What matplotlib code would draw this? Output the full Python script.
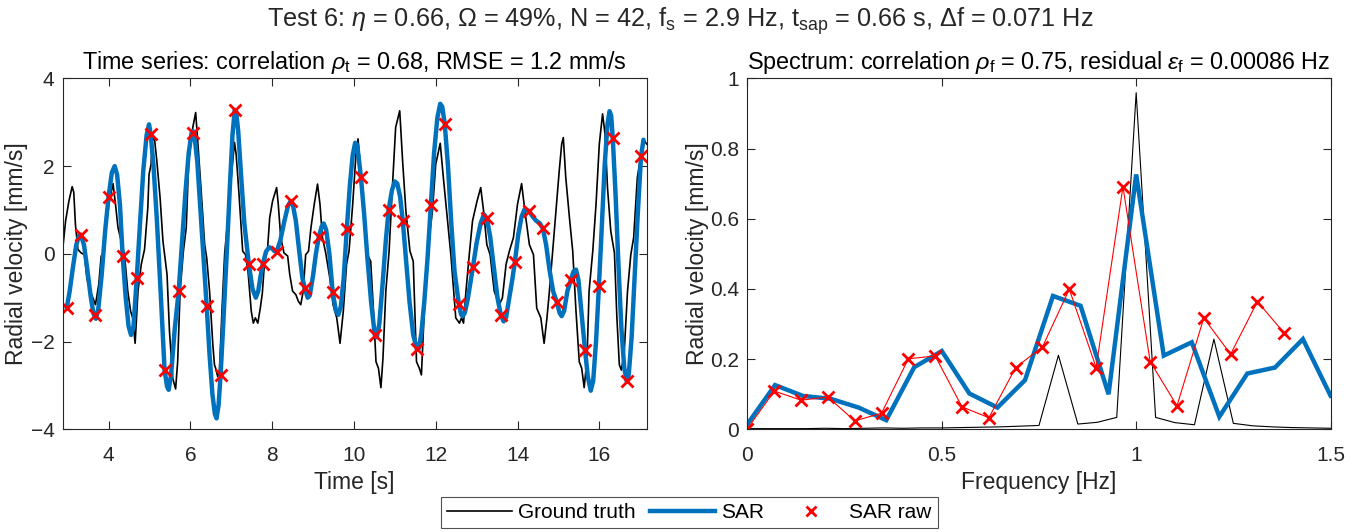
import matplotlib
matplotlib.use("Agg")
import matplotlib.pyplot as plt
from matplotlib.lines import Line2D

plt.rcParams['font.family'] = ['Liberation Sans', 'DejaVu Sans']
plt.rcParams['mathtext.fontset'] = 'custom'
plt.rcParams['mathtext.rm'] = 'Liberation Sans'
plt.rcParams['mathtext.it'] = 'Liberation Sans:italic'
plt.rcParams['mathtext.bf'] = 'Liberation Sans:bold'

# ---------------- time series ----------------
# ground truth velocity trace
gt_t = [2.883, 2.95, 3.03, 3.11, 3.15, 3.19, 3.25, 3.33, 3.41, 3.47, 3.54, 3.62, 3.68, 3.76,
        3.82, 3.88, 3.94, 4.02, 4.11, 4.17, 4.23, 4.31, 4.39, 4.47, 4.54, 4.59, 4.65, 4.72,
        4.80, 4.88, 4.96, 4.99, 5.04, 5.07, 5.12, 5.18, 5.26, 5.33, 5.37, 5.43, 5.49, 5.57,
        5.64, 5.69, 5.75, 5.83, 5.90, 5.96, 6.06, 6.13, 6.18, 6.27, 6.35, 6.40, 6.47, 6.55,
        6.59, 6.62, 6.67, 6.71, 6.78, 6.84, 6.92, 7.00, 7.08, 7.12, 7.19, 7.28, 7.35, 7.41,
        7.49, 7.54, 7.59, 7.65, 7.71, 7.76, 7.81, 7.89, 7.94, 8.01, 8.11, 8.15, 8.21, 8.29,
        8.38, 8.43, 8.50, 8.58, 8.64, 8.70, 8.76, 8.82, 8.89, 8.95, 9.03, 9.11, 9.17, 9.23,
        9.31, 9.41, 9.49, 9.58, 9.66, 9.74, 9.82, 9.88, 9.97, 10.05, 10.10, 10.17, 10.25,
        10.33, 10.41, 10.47, 10.54, 10.60, 10.66, 10.71, 10.78, 10.86, 10.94, 11.02, 11.12,
        11.19, 11.27, 11.37, 11.45, 11.53, 11.60, 11.65, 11.72, 11.80, 11.92, 12.00, 12.07,
        12.11, 12.18, 12.25, 12.37, 12.44, 12.49, 12.58, 12.63, 12.68, 12.74, 12.82, 12.90,
        13.01, 13.10, 13.17, 13.25, 13.33, 13.43, 13.55, 13.63, 13.72, 13.80, 13.90, 14.00,
        14.10, 14.18, 14.29, 14.39, 14.47, 14.57, 14.65, 14.72, 14.78, 14.86, 14.94, 15.02,
        15.08, 15.12, 15.18, 15.27, 15.35, 15.43, 15.51, 15.57, 15.63, 15.70, 15.75, 15.84,
        15.92, 16.00, 16.08, 16.14, 16.20, 16.28, 16.37, 16.43, 16.49, 16.54, 16.61, 16.69,
        16.77, 16.84, 16.93, 17.06, 17.10, 17.16]
gt_v = [0.14, 0.75, 1.20, 1.53, 1.40, 0.67, 0.10, 0.02, -0.02, -0.55, -0.82, -1.01, -1.16, -0.70,
        -0.05, 0.02, 0.67, 1.20, 1.60, 1.13, 0.60, 0.29, -0.02, -0.85, -1.31, -1.46, -2.04, -0.85,
        -0.24, 0.10, 1.05, 1.81, 2.04, 2.58, 2.65, 2.12, 1.28, 0.29, -0.02, -0.47, -1.77, -2.84,
        -3.08, -2.46, -0.85, 0.06, 0.60, 2.12, 2.88, 3.22, 2.58, 1.36, 0.21, -0.09, -0.85, -2.07,
        -2.53, -2.61, -2.80, -2.69, -1.16, 0.02, 0.82, 1.74, 2.54, 2.27, 1.36, 0.06, -0.02, -0.40,
        -1.31, -1.58, -1.46, -1.58, -1.24, -0.90, -0.24, 0.14, 0.82, 1.20, 1.51, 1.13, 0.37, 0.02,
        -0.05, -0.47, -0.85, -0.93, -1.08, -1.16, -0.85, -0.02, 0.06, 0.60, 1.13, 1.59, 1.13, 0.37,
        0.02, -0.55, -1.16, -1.46, -2.04, -1.31, -0.24, 0.06, 1.13, 2.27, 2.62, 1.81, 0.90,
        -0.02, -0.17, -1.16, -2.46, -2.61, -3.05, -2.38, -0.85, 0.06, 1.51, 2.88, 3.26,
        2.12, 0.98, 0.06, -0.17, -2.46, -2.61, -2.76, -1.31, 0.06, 0.98, 2.04, 2.35,
        2.52, 1.80, 1.13, -0.02, -0.85, -1.46, -1.58, -1.46, -1.58, -0.85, -0.02, 0.75,
        1.20, 1.51, 0.98, 0.21, -0.02, -0.85, -1.16, -1.01, -0.24, 0.06, 0.37, 1.13,
        1.60, 0.98, 0.21, -0.02, -1.24, -1.46, -2.04, -1.46, -0.85, 0.06, 0.98, 1.89,
        2.50, 2.65, 1.74, 0.82, 0.06, -1.31, -2.46, -2.61, -3.05, -2.38, -0.85, 0.06,
        1.13, 2.50, 3.19, 2.73, 1.51, 0.52, 0.02, -1.46, -2.53, -2.65, -2.23, -0.85,
        -0.02, 0.37, 1.74, 2.50, 2.58, 2.50]

# SAR reconstructed velocity
sar_t = [2.975, 3.05, 3.13, 3.21, 3.28, 3.32, 3.40, 3.48, 3.56, 3.63, 3.69, 3.75, 3.83, 3.92,
         4.00, 4.08, 4.15, 4.21, 4.28, 4.345, 4.42, 4.49, 4.55, 4.61, 4.69, 4.77, 4.85, 4.93,
         4.99, 5.03, 5.10, 5.18, 5.27, 5.37, 5.43, 5.47, 5.53, 5.62, 5.715, 5.80, 5.88, 5.96,
         6.03, 6.06, 6.10, 6.17, 6.26, 6.33, 6.40, 6.47, 6.54, 6.60, 6.64, 6.69, 6.74, 6.81,
         6.90, 6.97, 7.03, 7.085, 7.12, 7.17, 7.24, 7.32, 7.43, 7.52, 7.60, 7.66, 7.71, 7.77,
         7.85, 7.93, 8.00, 8.06, 8.11, 8.20, 8.30, 8.39, 8.455, 8.50, 8.58, 8.67, 8.74, 8.80,
         8.87, 8.92, 9.00, 9.07, 9.14, 9.21, 9.26, 9.32, 9.40, 9.48, 9.56, 9.62, 9.68, 9.75,
         9.825, 9.90, 9.97, 10.03, 10.08, 10.17, 10.25, 10.33, 10.42, 10.51, 10.56, 10.62,
         10.70, 10.78, 10.85, 10.93, 11.00, 11.06, 11.13, 11.195, 11.27, 11.36, 11.45, 11.54,
         11.59, 11.65, 11.72, 11.80, 11.88, 11.96, 12.04, 12.11, 12.16, 12.22, 12.30, 12.38,
         12.46, 12.565, 12.62, 12.66, 12.71, 12.78, 12.85, 12.91, 13.00, 13.10, 13.18, 13.25,
         13.33, 13.42, 13.51, 13.59, 13.66, 13.72, 13.80, 13.87, 13.935, 14.02, 14.10, 14.17,
         14.22, 14.28, 14.37, 14.46, 14.54, 14.62, 14.70, 14.78, 14.87, 14.96, 15.03, 15.08,
         15.14, 15.22, 15.305, 15.37, 15.43, 15.49, 15.57, 15.65, 15.72, 15.79, 15.85, 15.92,
         15.99, 16.06, 16.13, 16.20, 16.25, 16.29, 16.33, 16.40, 16.47, 16.54, 16.61, 16.67,
         16.72, 16.79, 16.86, 16.94, 17.02, 17.08]
sar_v = [-1.24, -0.85, -0.30, 0.20, 0.42, 0.44, 0.20, -0.35, -0.95, -1.36, -1.48, -1.25, -0.50, 0.55,
         1.30, 1.85, 2.00, 1.80, 1.10, -0.05, -1.00, -1.65, -1.85, -1.65, -0.55, 0.70, 1.90, 2.70,
         2.95, 2.73, 2.00, 0.80, -0.80, -2.65, -3.02, -3.10, -2.75, -1.70, -0.85, 0.30, 1.40, 2.30,
         2.75, 2.80, 2.70, 2.10, 0.80, -0.20, -1.20, -2.30, -3.20, -3.65, -3.75, -3.45, -2.76, -1.50,
         0.20, 1.60, 2.70, 3.28, 3.25, 2.80, 1.80, 0.70, -0.24, -0.80, -1.00, -0.85, -0.55, -0.24,
         0.05, 0.15, 0.12, 0.06, 0.05, 0.30, 0.75, 1.10, 1.20, 1.15, 0.75, 0.00, -0.55, -0.79,
         -1.00, -0.95, -0.50, 0.00, 0.38, 0.62, 0.69, 0.55, 0.00, -0.87, -1.30, -1.39, -1.20, -0.55,
         0.56, 1.55, 2.25, 2.53, 2.48, 1.76, 0.90, -0.10, -1.10, -1.85, -1.90, -1.60,
         -0.70, 0.30, 1.01, 1.45, 1.65, 1.60, 1.30, 0.75, -0.10, -1.10, -1.85, -2.17,
         -2.15, -1.80, -1.10, -0.10, 1.11, 2.30, 3.10, 3.42, 3.35, 2.97, 2.00, 0.70,
         -0.40, -1.14, -1.38, -1.42, -1.35, -1.05, -0.65, -0.30, 0.25, 0.70, 0.90, 0.81,
         0.40, -0.30, -1.00, -1.39, -1.54, -1.45, -1.00, -0.60, -0.19, 0.45, 0.85, 1.01,
         1.00, 0.98, 0.85, 0.75, 0.70, 0.58, 0.20, -0.35, -0.85, -1.10, -1.35, -1.42,
         -1.30, -0.85, -0.59, -0.40, -0.36, -0.60, -1.40, -2.19, -2.80, -3.12, -2.90, -2.00,
         -0.74, 0.60, 2.00, 2.95, 3.25, 3.15, 2.63, 1.30, -0.30, -1.70, -2.60, -2.90,
         -2.75, -1.90, -0.60, 0.90, 2.22, 2.60]

# raw SAR samples
raw_t = [2.975, 3.32, 3.66, 4.00, 4.345, 4.69, 5.03, 5.37, 5.715, 6.06, 6.40, 6.74, 7.085, 7.43,
         7.77, 8.11, 8.455, 8.80, 9.14, 9.48, 9.825, 10.17, 10.51, 10.85, 11.195, 11.54, 11.88,
         12.22, 12.565, 12.91, 13.25, 13.59, 13.935, 14.28, 14.62, 14.96, 15.305, 15.65, 15.99,
         16.33, 16.675, 17.02]
raw_v = [-1.24, 0.44, -1.40, 1.30, -0.05, -0.55, 2.73, -2.65, -0.85, 2.75, -1.20, -2.76, 3.28, -0.24,
         -0.24, 0.05, 1.21, -0.79, 0.38, -0.87, 0.56, 1.76, -1.85, 1.01, 0.75, -2.17, 1.11,
         2.97, -1.14, -0.30, 0.81, -1.39, -0.19, 0.98, 0.58, -1.10, -0.59, -2.19, -0.74,
         2.63, -2.90, 2.22]

# ---------------- spectra ----------------
gt_f = [0.00, 0.05, 0.10, 0.15, 0.20, 0.25, 0.30, 0.35, 0.40, 0.45, 0.50, 0.55, 0.60, 0.65, 0.70,
        0.75, 0.80, 0.85, 0.90, 0.95, 1.00, 1.05, 1.10, 1.15, 1.20, 1.25, 1.30, 1.35, 1.40, 1.45, 1.50]
gt_a = [0.002, 0.002, 0.002, 0.002, 0.003, 0.002, 0.003, 0.004, 0.003, 0.004, 0.004, 0.005, 0.006,
        0.007, 0.009, 0.011, 0.211, 0.015, 0.020, 0.034, 0.959, 0.034, 0.019, 0.013, 0.257, 0.017,
        0.010, 0.007, 0.005, 0.004, 0.003]

sar_f = [0.000, 0.071, 0.143, 0.214, 0.286, 0.357, 0.429, 0.500, 0.571, 0.643, 0.714, 0.786, 0.857,
         0.929, 1.000, 1.071, 1.143, 1.214, 1.286, 1.357, 1.429, 1.500]
sar_a = [0.015, 0.126, 0.095, 0.087, 0.062, 0.026, 0.177, 0.223, 0.102, 0.062, 0.140, 0.380, 0.352,
         0.100, 0.726, 0.210, 0.248, 0.036, 0.159, 0.176, 0.257, 0.096]

raw_f = [0.000, 0.069, 0.138, 0.207, 0.276, 0.345, 0.414, 0.483, 0.552, 0.621, 0.690, 0.759, 0.828,
         0.897, 0.966, 1.036, 1.105, 1.174, 1.243, 1.312, 1.381]
raw_a = [0.002, 0.109, 0.083, 0.092, 0.024, 0.046, 0.201, 0.209, 0.064, 0.033, 0.176, 0.235, 0.399,
         0.176, 0.691, 0.193, 0.067, 0.317, 0.214, 0.364, 0.274]

BLUE = '#0072BD'
AX_COL = '#262626'
TICK_FS = 15
LABEL_FS = 16.5
TITLE_FS = 16.8
SUPTITLE_FS = 18.2

fig = plt.figure(figsize=(13.61, 5.32), dpi=100)
ax1 = fig.add_axes([0.0461, 0.1930, 0.4291, 0.6598])
ax2 = fig.add_axes([0.5492, 0.1930, 0.4284, 0.6598])


def style(ax):
    for s in ax.spines.values():
        s.set_color(AX_COL)
        s.set_linewidth(0.8)
    ax.tick_params(direction='in', top=True, right=True, length=6, width=0.8,
                   colors=AX_COL, labelsize=TICK_FS)
    ax.tick_params(axis='x', pad=12)
    ax.tick_params(axis='y', pad=6)


ax1.plot(gt_t, gt_v, color='black', lw=1.2)
ax1.plot(sar_t, sar_v, color=BLUE, lw=3.2, solid_capstyle='round', solid_joinstyle='round')
ax1.plot(raw_t, raw_v, linestyle='none', marker='x', color='red', ms=8, mew=2)
ax1.set_xlim(2.88, 17.16)
ax1.set_ylim(-4, 4)
ax1.set_xticks([4, 6, 8, 10, 12, 14, 16])
ax1.set_yticks([-4, -2, 0, 2, 4])
ax1.set_xlabel('Time [s]', fontsize=LABEL_FS, color=AX_COL, labelpad=4)
ax1.set_ylabel('Radial velocity [mm/s]', fontsize=LABEL_FS, color=AX_COL, labelpad=2)
ax1.set_title(r'Time series: correlation $\rho_{\mathrm{t}}$ = 0.68, RMSE = 1.2 mm/s',
              fontsize=TITLE_FS, pad=7)
style(ax1)

ax2.plot(gt_f, gt_a, color='black', lw=0.8)
ax2.plot(sar_f, sar_a, color=BLUE, lw=3.2, solid_joinstyle='miter')
ax2.plot(raw_f, raw_a, color='red', lw=0.8, marker='x', ms=8, mew=2)
ax2.set_xlim(0, 1.5)
ax2.set_ylim(0, 1)
ax2.set_xticks([0, 0.5, 1, 1.5])
ax2.set_xticklabels(['0', '0.5', '1', '1.5'])
ax2.set_yticks([0, 0.2, 0.4, 0.6, 0.8, 1])
ax2.set_yticklabels(['0', '0.2', '0.4', '0.6', '0.8', '1'])
ax2.set_xlabel('Frequency [Hz]', fontsize=LABEL_FS, color=AX_COL, labelpad=4)
ax2.set_ylabel('Radial velocity [mm/s]', fontsize=LABEL_FS, color=AX_COL, labelpad=1)
ax2.set_title(r'Spectrum: correlation $\rho_{\mathrm{f}}$ = 0.75, residual $\epsilon_{\mathrm{f}}$ = 0.00086 Hz',
              fontsize=TITLE_FS, pad=7)
style(ax2)

fig.text(0.5, 0.960,
         r'Test 6: $\eta$ = 0.66, $\Omega$ = 49%, N = 42, f$_{\mathrm{s}}$ = 2.9 Hz, '
         r't$_{\mathrm{sap}}$ = 0.66 s, $\Delta$f = 0.071 Hz',
         ha='center', va='center', fontsize=SUPTITLE_FS, color=AX_COL)

handles = [Line2D([], [], color='black', lw=1.2),
           Line2D([], [], color=BLUE, lw=3.2),
           Line2D([], [], color='red', linestyle='none', marker='x', ms=7, mew=2)]
leg = fig.legend(handles, ['Ground truth', 'SAR', 'SAR raw'], ncol=3,
                 loc='upper center', bbox_to_anchor=(0.5066, 0.066),
                 fontsize=TICK_FS, frameon=True, fancybox=False, edgecolor=AX_COL,
                 handlelength=3.1, columnspacing=0.7, handletextpad=0.3,
                 borderpad=0.3, borderaxespad=0)
leg.get_frame().set_linewidth(0.8)

fig.savefig('out.png', dpi=100)
